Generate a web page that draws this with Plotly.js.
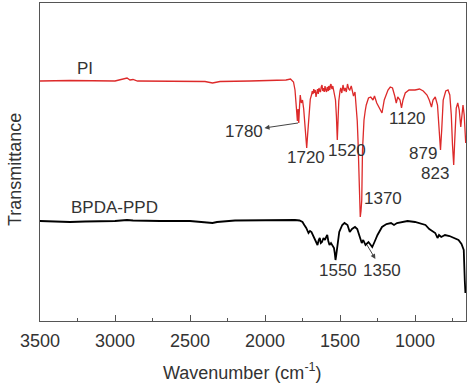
<!DOCTYPE html>
<html><head><meta charset="utf-8">
<script src="https://cdn.plot.ly/plotly-3.0.1.min.js"></script>
<style>html,body{margin:0;padding:0;background:#fff}#chart{width:470px;height:386px}</style>
</head><body><div id="chart"></div>
<script>
// Wavenumber (cm-1) and transmittance (arbitrary units, offset per curve)
const piWavenumber = [3500,3300,3000,2930,2920,2900,2880,2850,2600,2400,2350,2320,2300,2100,1900,1860,1830,1810,1800,1790,1784,1780,1775,1770,1765,1758,1750,1742,1735,1728,1722,1716,1710,1705,1698,1690,1685,1680,1675,1670,1665,1660,1655,1650,1645,1640,1635,1630,1625,1620,1615,1610,1605,1600,1595,1590,1585,1582,1578,1575,1570,1568,1564,1560,1556,1552,1548,1545,1538,1530,1524,1518,1512,1508,1500,1495,1488,1480,1472,1465,1458,1450,1442,1435,1425,1418,1410,1400,1395,1390,1385,1380,1375,1370,1365,1360,1355,1350,1345,1340,1332,1325,1310,1295,1280,1270,1255,1240,1220,1205,1180,1165,1150,1135,1125,1115,1100,1090,1080,1065,1040,1000,970,945,920,905,890,880,865,850,838,830,822,812,795,780,768,758,750,742,735,725,715,705,695,688,680,672,662];
const piValues = [240,240.5,240,242,243,241,241.5,240,240,239.5,238,238.5,239.5,240,240.5,241,242,239,231,215,200,212,198,214,226,218,221,212,200,186,173,186,200,213,222,226,230,227,232,228,231,224,229,232,227,233,230,229,234,236,230,233,229,235,231,229,234,233,230,235,232,231,236,237,233,232,235,233,228,221,205,181,205,220,230,233,228,236,230,233,229,237,232,231,235,228,225,229,221,216,200,181,150,131,104,110,121,171,190,201,210,216,223,224,221,225,218,214,208,221,231,234,233,225,218,224,221,213,221,228,231,231,232,230,226,221,214,221,224,216,191,171,191,221,230,231,226,206,176,156,181,213,218,211,194,209,216,206,178];

const bpdaWavenumber = [3500,3400,3300,3200,3000,2920,2880,2700,2500,2350,2320,2200,2000,1800,1770,1750,1738,1725,1710,1700,1690,1680,1670,1660,1650,1642,1635,1628,1620,1610,1600,1592,1585,1578,1570,1560,1550,1540,1535,1530,1525,1520,1505,1485,1470,1450,1435,1420,1400,1385,1370,1355,1345,1330,1310,1298,1285,1270,1250,1220,1190,1160,1140,1120,1080,1050,1000,960,930,905,885,865,850,840,825,800,770,740,710,690,675,668,664];
const bpdaValues = [100,99.5,99,99.5,100,101,100.5,100,100,98,99,100.5,101,101,100.5,99,96,93,88,90,89,86,83,80,76,81,83,78,79,83,81,84,86,80,76,78,75,73,68,61,66,73,89,96,98,96,89,92,94,92,86,78,81,76,79,77,74,79,86,94,97,98,96,98,99,100,99,97,96,92,90,88,83,86,84,86,85,83,81,77,71,40,28];

const xTickVals = [3500,3000,2500,2000,1500,1000];

const red = '#dd2a2a';
const ink = '#333333';
const fam = 'Liberation Sans, Arial, sans-serif';
const font = {family: fam, size: 17, color: ink};
const bigFont = {family: fam, size: 18, color: ink};

const traces = [
  {x: piWavenumber, y: piValues, type: 'scatter', mode: 'lines', line: {color: red, width: 1.3}, hoverinfo: 'skip'},
  {x: bpdaWavenumber, y: bpdaValues, type: 'scatter', mode: 'lines', line: {color: '#000', width: 1.8}, hoverinfo: 'skip'}
];

const labels = [
  {text: 'PI', x: 3200, y: 253},
  {text: 'BPDA-PPD', x: 3005, y: 114},
  {text: '1720', x: 1727, y: 164},
  {text: '1520', x: 1453, y: 171},
  {text: '1370', x: 1213, y: 123},
  {text: '1120', x: 1047, y: 203},
  {text: '879', x: 947, y: 168},
  {text: '823', x: 867, y: 148},
  {text: '1550', x: 1513, y: 51}
];
const annotations = labels.map(l => ({x: l.x, y: l.y, xref: 'x', yref: 'y', text: l.text, showarrow: false, font: font}));
// labelled bands with arrows (arrowhead next to the label)
annotations.push({x: 1780, y: 198, xref: 'x', yref: 'y', ax: -54, ay: 8, text: '1780', font: font,
  showarrow: true, arrowside: 'start', arrowhead: 2, startarrowhead: 2, arrowsize: 1, startarrowsize: 1, arrowwidth: 1, arrowcolor: '#444', standoff: 0, startstandoff: 0});
annotations.push({x: 1320, y: 76, xref: 'x', yref: 'y', ax: 15, ay: 25, text: '1350', font: font,
  showarrow: true, arrowside: 'start', arrowhead: 2, startarrowhead: 2, arrowsize: 1, startarrowsize: 1, arrowwidth: 1, arrowcolor: '#444', standoff: 0, startstandoff: 0});
// axis titles
annotations.push({xref: 'paper', yref: 'paper', x: 0.4765, y: -0.160, xanchor: 'center', yanchor: 'middle',
  text: 'Wavenumber (cm<sup>-1</sup>)', showarrow: false, font: bigFont});
annotations.push({xref: 'paper', yref: 'paper', x: -0.0587, y: 0.478, xanchor: 'center', yanchor: 'middle',
  text: 'Transmittance', textangle: -90, showarrow: false, font: bigFont});

const layout = {
  width: 470, height: 386,
  margin: {l: 40, r: 4, t: 3, b: 65},
  paper_bgcolor: '#fff', plot_bgcolor: '#fff',
  showlegend: false,
  font: font,
  xaxis: {
    range: [3500, 660], tickvals: xTickVals, ticks: 'inside', ticklen: 6, tickcolor: '#555',
    minor: {dtick: 250, tick0: 3500, ticks: 'inside', ticklen: 3, tickcolor: '#555'},
    showline: true, linecolor: '#555', linewidth: 1, mirror: true, showgrid: false, zeroline: false,
    tickfont: bigFont, ticklabelstandoff: 3, automargin: false
  },
  yaxis: {
    range: [0, 318], showticklabels: false, ticks: '', showgrid: false, zeroline: false,
    showline: true, linecolor: '#555', linewidth: 1, mirror: true, automargin: false
  },
  annotations: annotations
};

Plotly.newPlot('chart', traces, layout, {staticPlot: true, displayModeBar: false});
</script></body></html>
